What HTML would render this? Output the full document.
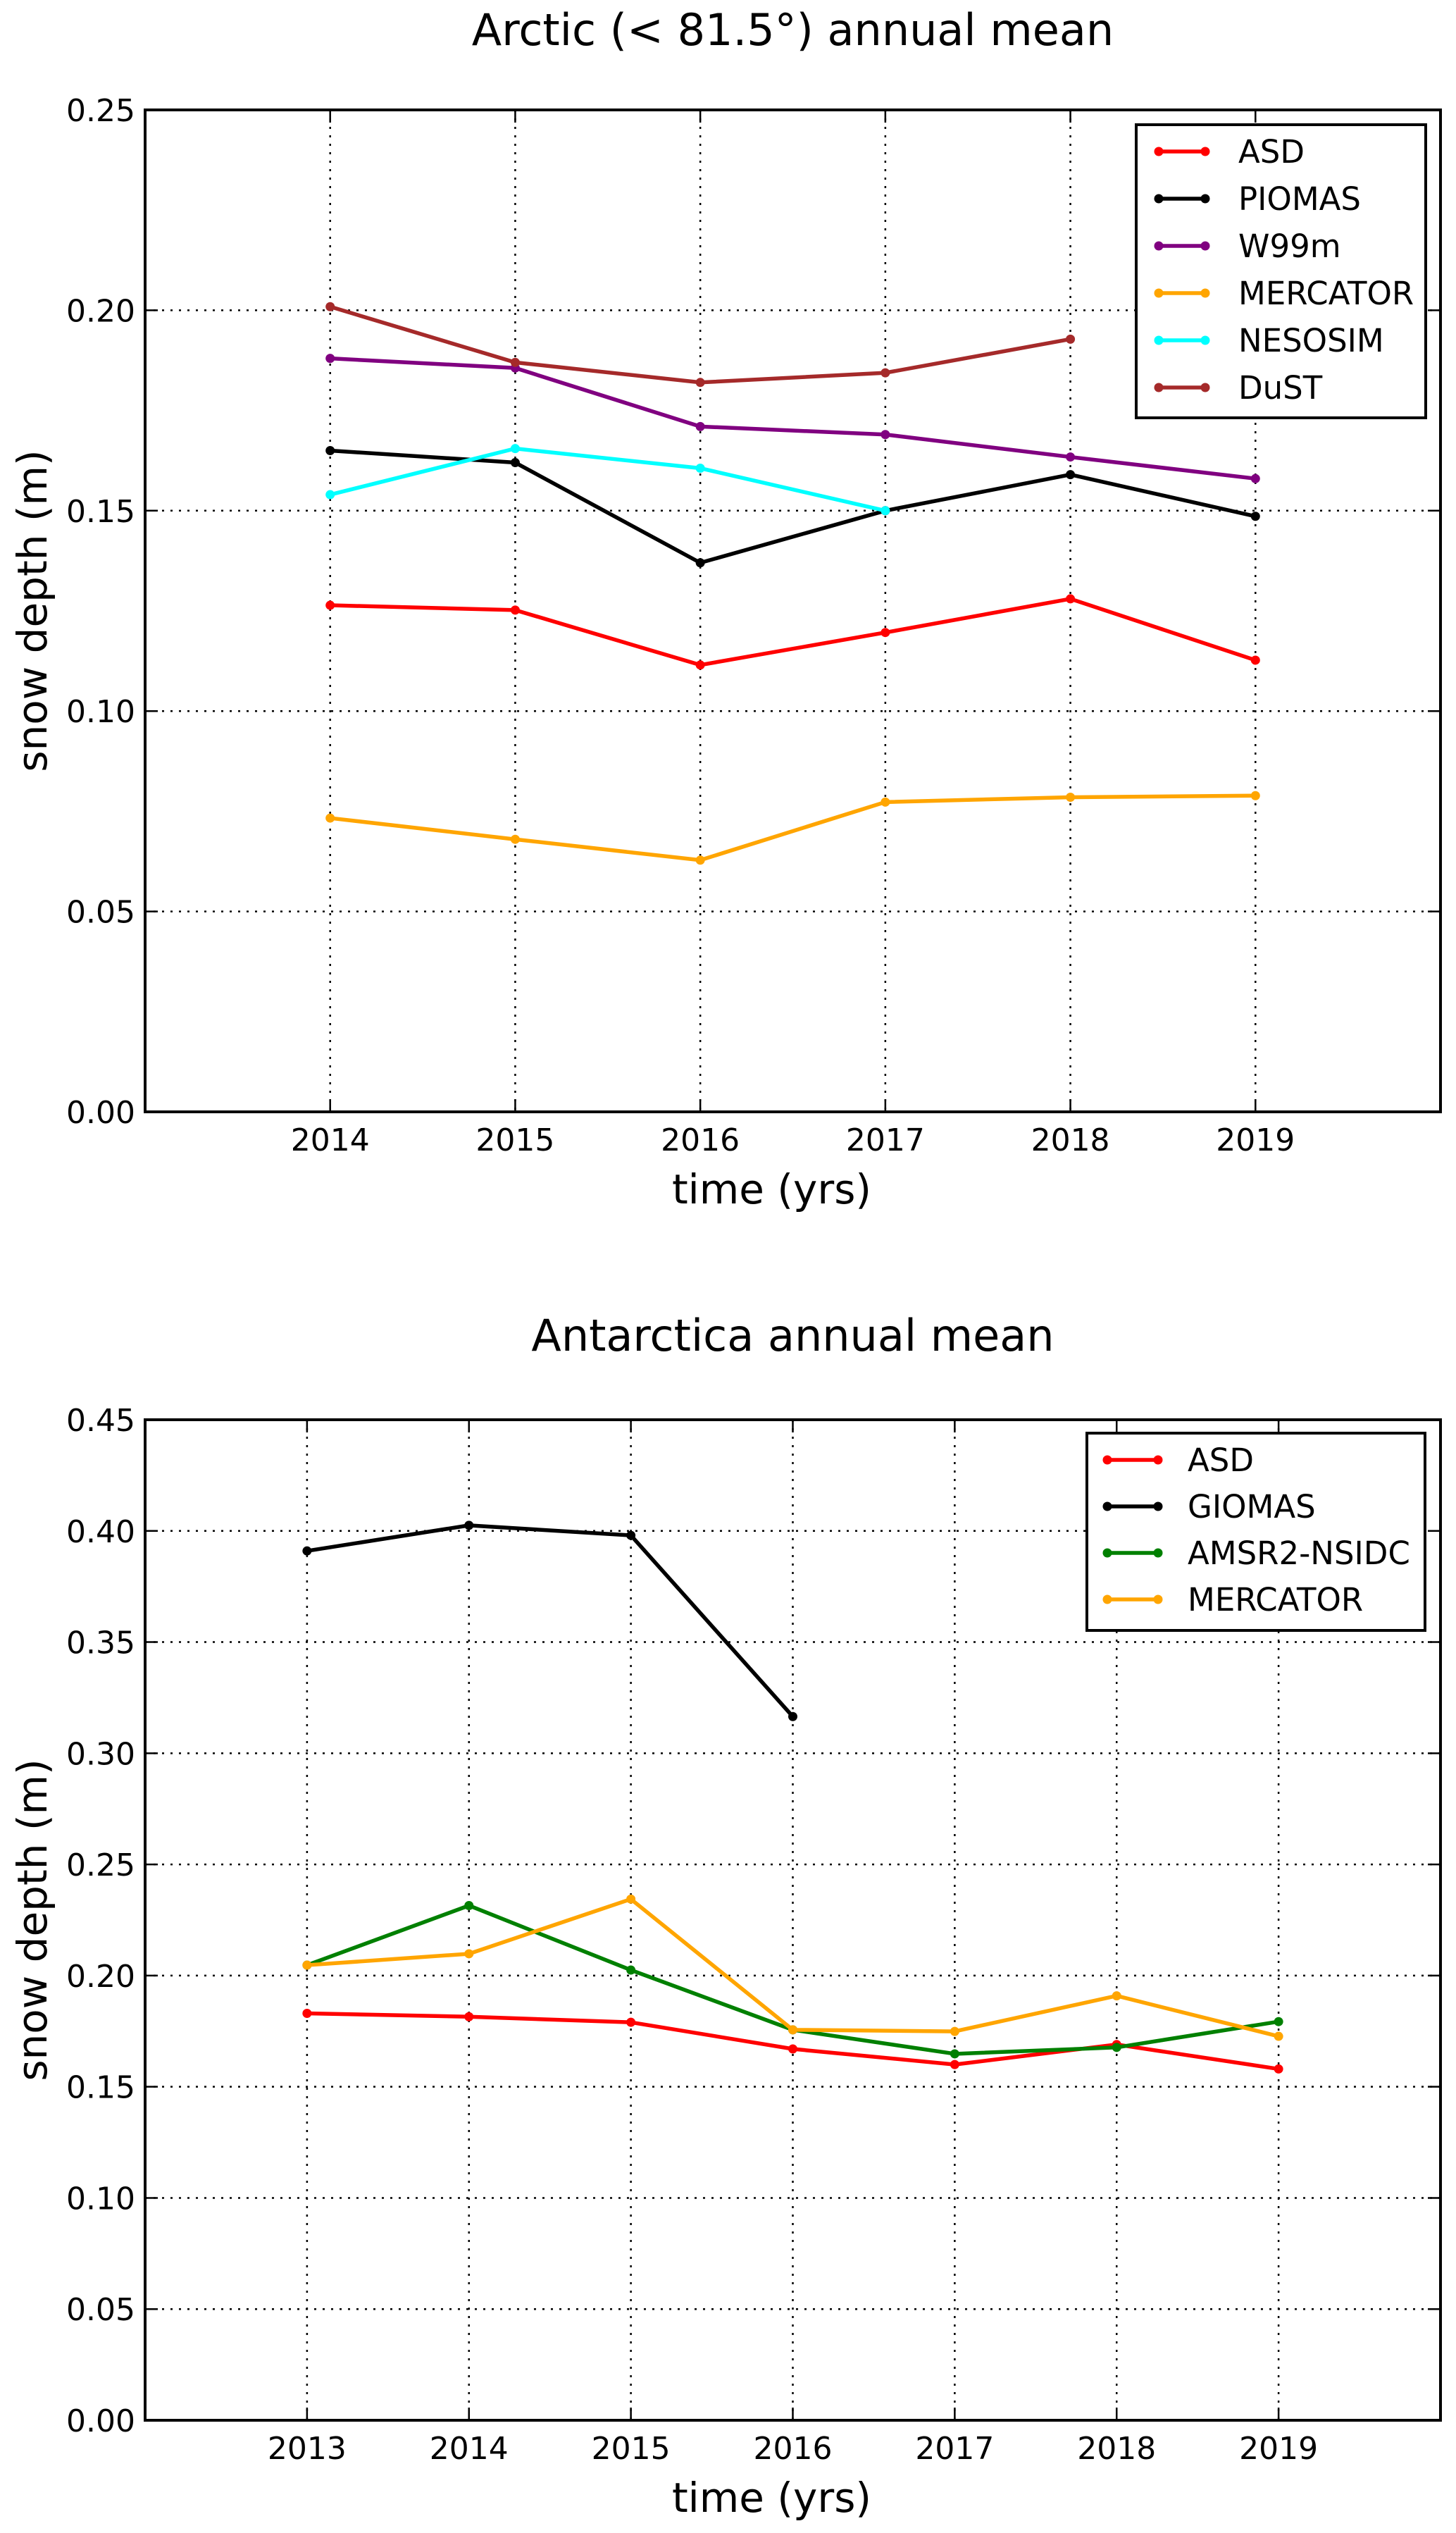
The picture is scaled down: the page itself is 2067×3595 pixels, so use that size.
<!DOCTYPE html>
<html><head><meta charset="utf-8"><style>
body{margin:0;background:#fff}
svg text{font-family:"DejaVu Sans","Liberation Sans",sans-serif;fill:#000}
</style></head><body>
<svg id="svg" width="2067" height="3590" viewBox="0 0 2067 3590" xmlns="http://www.w3.org/2000/svg"></svg>
<script>
// ---- Arctic data ----
const arcticYears = [2014, 2015, 2016, 2017, 2018, 2019];
const arcticASD = [0.1264, 0.1252, 0.1115, 0.1196, 0.1280, 0.1127];
const arcticPIOMAS = [0.1650, 0.1620, 0.1370, 0.1500, 0.1590, 0.1486];
const arcticW99m = [0.1880, 0.1856, 0.1710, 0.1690, 0.1634, 0.1580];
const arcticMERCATOR = [0.0733, 0.0680, 0.0628, 0.0773, 0.0785, 0.0789];
const arcticNESOSIM = [0.1540, 0.1655, 0.1606, 0.1500, null, null];
const arcticDuST = [0.2009, 0.1870, 0.1820, 0.1844, 0.1928, null];
const arcticYTicks = ["0.00","0.05","0.10","0.15","0.20","0.25"];
// ---- Antarctic data ----
const antYears = [2013, 2014, 2015, 2016, 2017, 2018, 2019];
const antASD = [0.1830, 0.1815, 0.1790, 0.1670, 0.1600, 0.1690, 0.1580];
const antGIOMAS = [0.3910, 0.4025, 0.3980, 0.3165, null, null, null];
const antAMSR2 = [0.2047, 0.2315, 0.2025, 0.1756, 0.1648, 0.1677, 0.1793];
const antMERCATOR = [0.2047, 0.2098, 0.2344, 0.1756, 0.1749, 0.1909, 0.1727];
const antYTicks = ["0.00","0.05","0.10","0.15","0.20","0.25","0.30","0.35","0.40","0.45"];

const NS = "http://www.w3.org/2000/svg";
const svg = document.getElementById('svg');
function mk(tag, attrs, parent){
  const e = document.createElementNS(NS, tag);
  for (const k in attrs) e.setAttribute(k, attrs[k]);
  (parent||svg).appendChild(e);
  return e;
}

function chart(cfg){
  const g = mk('g', {});
  
  
  const L=cfg.left, R=cfg.right, T=cfg.top, B=cfg.bottom;
  const xs = v => L + (v - cfg.xmin)/(cfg.xmax - cfg.xmin)*(R-L);
  const ys = v => B - (v - cfg.ymin)/(cfg.ymax - cfg.ymin)*(B-T);
  cfg.years.forEach(yr=>{
    const gl = mk('line',{x1:xs(yr),x2:xs(yr),y1:T,y2:B,stroke:'#000','stroke-width':2.5,'stroke-dasharray':'3,9'},g);
    
    
    mk('line',{x1:xs(yr),x2:xs(yr),y1:B,y2:B-18,stroke:'#000','stroke-width':2.5},g);
    mk('line',{x1:xs(yr),x2:xs(yr),y1:T,y2:T+18,stroke:'#000','stroke-width':2.5},g);
    const t = mk('text',{x:xs(yr),y:B+55,'font-size':44,'text-anchor':'middle'},g);
    t.textContent = yr;
    
    
  });
  cfg.yticks.forEach(lab=>{
    const v = parseFloat(lab);
    const y = ys(v);
    if (v>cfg.ymin && v<cfg.ymax){
      const gl = mk('line',{x1:L,x2:R,y1:y,y2:y,stroke:'#000','stroke-width':2.5,'stroke-dasharray':'3,9'},g);
      
      
    }
    mk('line',{x1:L,x2:L+18,y1:y,y2:y,stroke:'#000','stroke-width':2.5},g);
    mk('line',{x1:R,x2:R-18,y1:y,y2:y,stroke:'#000','stroke-width':2.5},g);
    const t = mk('text',{x:L-14,y:y+16,'font-size':44,'text-anchor':'end'},g);
    t.textContent = lab;
    
    
  });
  cfg.series.forEach(s=>{
    const sg = mk('g',{},g);
    
    
    let pts=[];
    s.values.forEach((v,i)=>{ if(v!==null) pts.push([xs(cfg.years[i]), ys(v)]); });
    const pl = mk('polyline',{points:pts.map(p=>p.join(',')).join(' '),fill:'none',stroke:s.color,'stroke-width':5.5,'stroke-linejoin':'round'},sg);
    
    
    pts.forEach(p=>{
      const c = mk('circle',{cx:p[0],cy:p[1],r:6.5,fill:s.color},sg);
      
      
    });
  });
  const fr = mk('rect',{x:L,y:T,width:R-L,height:B-T,fill:'none',stroke:'#000','stroke-width':4},g);
  
  
  const ti = mk('text',{x:(L+R)/2,y:cfg.titleY,'font-size':62,'text-anchor':'middle'},g);
  ti.textContent = cfg.title;
  
  
  const xl = mk('text',{x:(L+R)/2-30,y:B+130,'font-size':58,'text-anchor':'middle'},g);
  xl.textContent = 'time (yrs)';
  
  
  const yc=(T+B)/2;
  const yl = mk('text',{x:0,y:0,'font-size':58,'text-anchor':'middle',transform:`translate(66,${yc}) rotate(-90)`},g);
  yl.textContent = 'snow depth (m)';
  
  
  const lg = mk('g',{},g);
  
  
  const lr = mk('rect',{x:cfg.leg.x,y:cfg.leg.y,width:cfg.leg.w,height:cfg.leg.h,fill:'#fff',stroke:'#000','stroke-width':4},lg);
  
  
  cfg.series.forEach((s,i)=>{
    const y = cfg.leg.y + cfg.leg.first + i*cfg.leg.step;
    const eg = mk('g',{},lg);
    
    
    mk('line',{x1:cfg.leg.lx1,x2:cfg.leg.lx2,y1:y,y2:y,stroke:s.color,'stroke-width':5.5},eg);
    mk('circle',{cx:cfg.leg.lx1,cy:y,r:6.5,fill:s.color},eg);
    mk('circle',{cx:cfg.leg.lx2,cy:y,r:6.5,fill:s.color},eg);
    const t = mk('text',{x:cfg.leg.tx,y:y+16,'font-size':45},eg);
    t.textContent = s.label;
  });
}

chart({
  name:'arctic-chart', title:'Arctic (< 81.5°) annual mean', titleY:64,
  left:206, right:2045, top:156, bottom:1578,
  xmin:2013, xmax:2020, ymin:0, ymax:0.25,
  years:arcticYears, yticks:arcticYTicks,
  series:[
    {label:'ASD', color:'#ff0000', values:arcticASD},
    {label:'PIOMAS', color:'#000000', values:arcticPIOMAS},
    {label:'W99m', color:'#800080', values:arcticW99m},
    {label:'MERCATOR', color:'#ffa500', values:arcticMERCATOR},
    {label:'NESOSIM', color:'#00ffff', values:arcticNESOSIM},
    {label:'DuST', color:'#a52a2a', values:arcticDuST}
  ],
  leg:{x:1613,y:177,w:411,h:416,first:38,step:67,lx1:1645,lx2:1711,tx:1758}
});
chart({
  name:'antarctica-chart', title:'Antarctica annual mean', titleY:1917,
  left:206, right:2045, top:2015, bottom:3435,
  xmin:2012, xmax:2020, ymin:0, ymax:0.45,
  years:antYears, yticks:antYTicks,
  series:[
    {label:'ASD', color:'#ff0000', values:antASD},
    {label:'GIOMAS', color:'#000000', values:antGIOMAS},
    {label:'AMSR2-NSIDC', color:'#008000', values:antAMSR2},
    {label:'MERCATOR', color:'#ffa500', values:antMERCATOR}
  ],
  leg:{x:1543,y:2034,w:480,h:280,first:38,step:66,lx1:1572,lx2:1644,tx:1686}
});
</script>
</body></html>
